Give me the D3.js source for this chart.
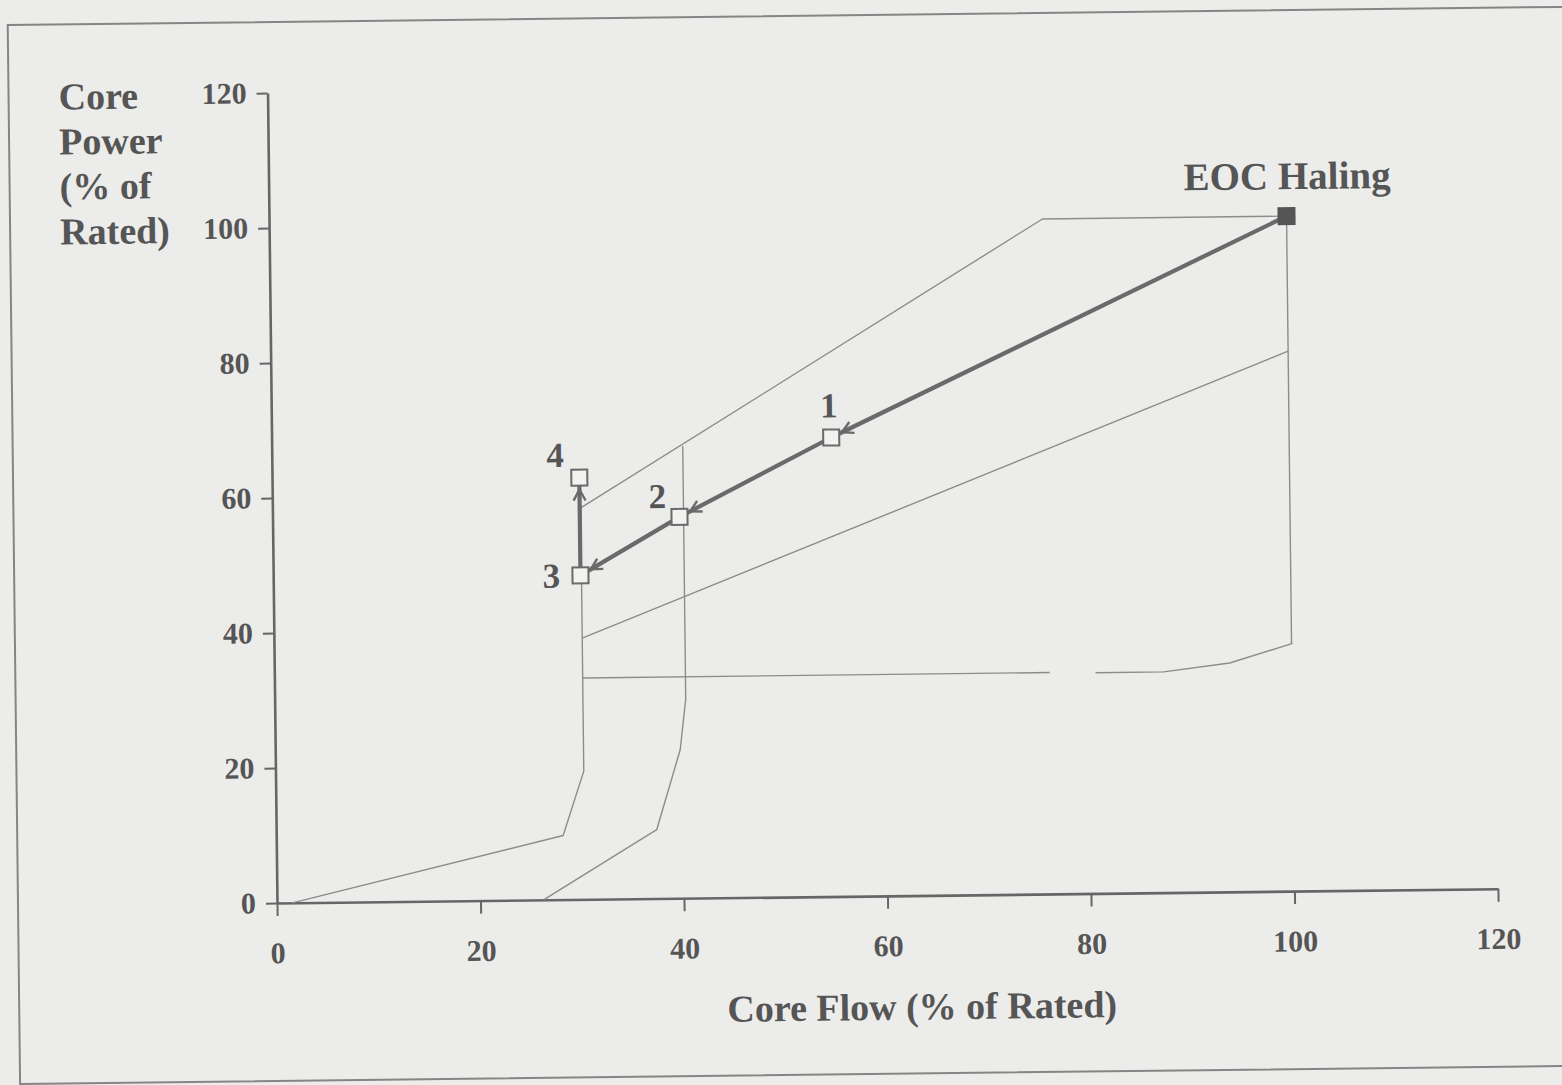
<!DOCTYPE html>
<html>
<head>
<meta charset="utf-8">
<script src="https://cdn.jsdelivr.net/npm/d3@7"></script>
<style>
  html, body { margin: 0; padding: 0; background: #ececea; }
  svg { display: block; }
</style>
</head>
<body>
<script>
// Axis ticks
const flowTicks = [0, 20, 40, 60, 80, 100, 120];
const powerTicks = [0, 20, 40, 60, 80, 100, 120];

// Operating path: EOC Haling point, then states 1 to 4
const pathLabels = ["EOC Haling", "1", "2", "3", "4"];
const pathFlow = [100, 55, 40, 30.2, 30.2];
const pathPower = [100, 68, 56.5, 48, 62.5];

// Power/flow map boundaries, [flow, power]
const upperRodLine = [[30.3, 58], [76, 100], [100, 100]];
const ratedFlowLine = [[100, 100], [100, 36.7]];
const lowerRodLine = [[30.3, 38.7], [100, 80]];
const minPumpLine = [[30.3, 58], [30.3, 19], [28.2, 9.5], [1.5, 0]];
const cavitationLine = [[40.4, 67], [40.4, 29.5], [39.8, 22], [37.4, 10.2], [26.2, 0]];
const lowPowerLineA = [[30.3, 32.8], [76.2, 32.8]];
const lowPowerLineB = [[80.7, 32.7], [87.4, 32.7], [93.9, 33.9], [100.1, 36.7]];

const W = 1562, H = 1085;
const serif = "'Liberation Serif', 'Times New Roman', serif";
const inkText = "#555555";
const inkAxis = "#666666";
const inkThin = "#8c8c8c";
const inkPath = "#6a6a6a";
const bg = "#ececea";

const svg = d3.select("body").append("svg")
  .attr("width", W).attr("height", H);

svg.append("rect").attr("width", W).attr("height", H).attr("fill", bg);

// whole sheet sits slightly tilted
const g = svg.append("g").attr("transform", "rotate(-0.67 277 903)");

const x = d3.scaleLinear().domain([0, 120]).range([277, 1498]);
const y = d3.scaleLinear().domain([0, 120]).range([903, 93]);

// frame
g.append("path")
  .attr("d", "M1620,22 L18,22 L18,1081 L1620,1081")
  .attr("fill", "none").attr("stroke", "#858585").attr("stroke-width", 2);

// axes
const xAxis = g.append("g")
  .attr("transform", `translate(0,${y(0)})`)
  .call(d3.axisBottom(x).tickValues(flowTicks).tickSize(13).tickSizeOuter(0)
    .tickPadding(26).tickFormat(d3.format("d")));
const yAxis = g.append("g")
  .attr("transform", `translate(${x(0)},0)`)
  .call(d3.axisLeft(y).tickValues(powerTicks).tickSize(11).tickSizeOuter(0)
    .tickPadding(10).tickFormat(d3.format("d")));

[xAxis, yAxis].forEach(a => {
  a.select(".domain").attr("stroke", inkAxis).attr("stroke-width", 2.6);
  a.selectAll(".tick line").attr("stroke", inkAxis).attr("stroke-width", 2);
  a.selectAll(".tick text")
    .attr("fill", inkText)
    .style("font-family", serif)
    .style("font-weight", "bold")
    .style("font-size", "30px");
});

// axis titles
g.append("text")
  .attr("x", 921).attr("y", 1027)
  .attr("text-anchor", "middle")
  .attr("fill", inkText)
  .style("font-family", serif).style("font-weight", "bold").style("font-size", "38px")
  .text("Core Flow (% of Rated)");

const yTitle = ["Core", "Power", "(% of", "Rated)"];
g.append("text")
  .attr("fill", inkText)
  .style("font-family", serif).style("font-weight", "bold").style("font-size", "38px")
  .selectAll("tspan").data(yTitle).join("tspan")
  .attr("x", 68)
  .attr("y", (d, i) => 107 + i * 45)
  .text(d => d);

// map boundaries
const line = d3.line().x(d => x(d[0])).y(d => y(d[1]));
[upperRodLine, ratedFlowLine, lowerRodLine, minPumpLine, cavitationLine, lowPowerLineA, lowPowerLineB]
  .forEach(pts => {
    g.append("path")
      .attr("d", line(pts))
      .attr("fill", "none")
      .attr("stroke", inkThin)
      .attr("stroke-width", 1.4)
      .attr("stroke-linejoin", "round");
  });

// operating path
const pts = pathLabels.map((label, i) => ({ label, flow: pathFlow[i], power: pathPower[i] }));
g.append("path")
  .attr("d", d3.line().x(d => x(d.flow)).y(d => y(d.power))(pts))
  .attr("fill", "none")
  .attr("stroke", inkPath)
  .attr("stroke-width", 4.2)
  .attr("stroke-linejoin", "round");

// open arrowheads just before each destination state
for (let i = 1; i < pts.length; i++) {
  const x0 = x(pts[i - 1].flow), y0 = y(pts[i - 1].power);
  const x1 = x(pts[i].flow), y1 = y(pts[i].power);
  const len = Math.hypot(x1 - x0, y1 - y0);
  const ux = (x1 - x0) / len, uy = (y1 - y0) / len;
  const px = -uy, py = ux;
  const tx = x1 - ux * 12, ty = y1 - uy * 12;
  const bx = tx - ux * 11, by = ty - uy * 11;
  g.append("path")
    .attr("d", `M${bx + px * 6},${by + py * 6} L${tx},${ty} L${bx - px * 6},${by - py * 6}`)
    .attr("fill", "none")
    .attr("stroke", inkPath)
    .attr("stroke-width", 2.4)
    .attr("stroke-linejoin", "miter");
}

// state markers
const side = 16;
g.selectAll("rect.state").data(pts).join("rect")
  .attr("class", "state")
  .attr("x", d => x(d.flow) - side / 2)
  .attr("y", d => y(d.power) - side / 2)
  .attr("width", side).attr("height", side)
  .attr("fill", (d, i) => i === 0 ? "#555555" : "#f2f2f0")
  .attr("stroke", (d, i) => i === 0 ? "#555555" : inkPath)
  .attr("stroke-width", 2);

// state labels
const labelOffset = {
  "EOC Haling": [1, -27, 39],
  "1": [-2, -20, 35],
  "2": [-22, -9, 35],
  "3": [-29, 12, 35],
  "4": [-24, -11, 35]
};
g.selectAll("text.state").data(pts).join("text")
  .attr("class", "state")
  .attr("x", d => x(d.flow) + labelOffset[d.label][0])
  .attr("y", d => y(d.power) + labelOffset[d.label][1])
  .attr("text-anchor", "middle")
  .attr("fill", inkText)
  .style("font-family", serif).style("font-weight", "bold")
  .style("font-size", d => labelOffset[d.label][2] + "px")
  .text(d => d.label);
</script>
</body>
</html>
